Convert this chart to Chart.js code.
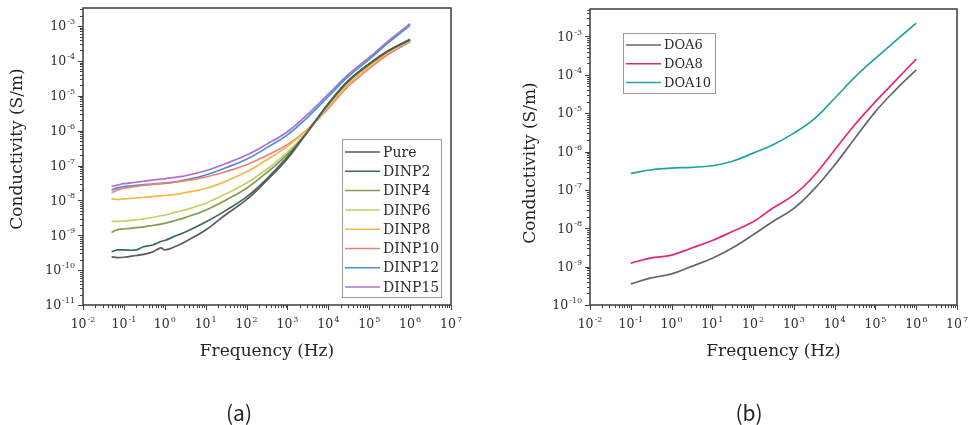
<!DOCTYPE html>
<html>
<head>
<meta charset="utf-8">
<script src="https://cdn.jsdelivr.net/npm/chart.js@4.4.1/dist/chart.umd.min.js"></script>
<style>
  html, body { margin: 0; padding: 0; background: #fff; }
  #wrap { position: relative; width: 968px; height: 425px; }
  canvas { position: absolute; top: 0; }
  #chartA { left: 0; }
  #chartB { left: 484px; }
</style>
</head>
<body>
<div id="wrap">
  <canvas id="chartA" width="484" height="425"></canvas>
  <canvas id="chartB" width="484" height="425"></canvas>
</div>
<script>
// ---- data (frequency in Hz, conductivity in S/m) ----
var freqA = [0.05, 0.07, 0.1, 0.2, 0.3, 0.5, 0.8, 1, 2, 3, 10, 30, 100, 300, 1e3, 3e3, 1e4, 3e4, 1e5, 3e5, 1e6];

var sigmaPure   = [2.40e-10, 2.29e-10, 2.34e-10, 2.63e-10, 2.82e-10, 3.31e-10, 4.37e-10, 3.80e-10, 5.01e-10, 6.31e-10, 1.41e-9, 3.80e-9, 1.05e-8, 3.55e-8, 1.58e-7, 8.91e-7, 6.03e-6, 2.63e-5, 8.32e-5, 2.00e-4, 4.17e-4];
var sigmaDINP2  = [3.39e-10, 3.80e-10, 3.80e-10, 3.80e-10, 4.68e-10, 5.25e-10, 6.61e-10, 7.08e-10, 1.00e-9, 1.20e-9, 2.40e-9, 5.01e-9, 1.26e-8, 3.98e-8, 1.78e-7, 8.71e-7, 5.75e-6, 2.51e-5, 7.94e-5, 1.95e-4, 4.07e-4];
var sigmaDINP4  = [1.20e-9, 1.45e-9, 1.51e-9, 1.66e-9, 1.74e-9, 1.91e-9, 2.09e-9, 2.19e-9, 2.75e-9, 3.16e-9, 5.25e-9, 1.00e-8, 2.24e-8, 6.03e-8, 2.09e-7, 8.91e-7, 5.75e-6, 2.63e-5, 8.32e-5, 2.00e-4, 3.98e-4];
var sigmaDINP6  = [2.51e-9, 2.51e-9, 2.57e-9, 2.75e-9, 2.95e-9, 3.24e-9, 3.63e-9, 3.80e-9, 4.68e-9, 5.25e-9, 8.32e-9, 1.51e-8, 3.16e-8, 7.59e-8, 2.40e-7, 9.12e-7, 5.37e-6, 2.40e-5, 7.76e-5, 1.91e-4, 3.89e-4];
var sigmaDINP8  = [1.10e-8, 1.07e-8, 1.10e-8, 1.17e-8, 1.23e-8, 1.29e-8, 1.35e-8, 1.38e-8, 1.51e-8, 1.66e-8, 2.19e-8, 3.47e-8, 6.61e-8, 1.41e-7, 3.55e-7, 1.05e-6, 4.79e-6, 2.09e-5, 6.92e-5, 1.78e-4, 3.80e-4];
var sigmaDINP10 = [1.66e-8, 2.00e-8, 2.24e-8, 2.51e-8, 2.69e-8, 2.88e-8, 3.02e-8, 3.16e-8, 3.39e-8, 3.63e-8, 4.68e-8, 6.61e-8, 1.05e-7, 1.91e-7, 3.98e-7, 1.05e-6, 4.37e-6, 1.82e-5, 6.03e-5, 1.58e-4, 3.55e-4];
var sigmaDINP12 = [2.00e-8, 2.29e-8, 2.51e-8, 2.69e-8, 2.82e-8, 2.95e-8, 3.09e-8, 3.09e-8, 3.47e-8, 3.80e-8, 5.37e-8, 8.51e-8, 1.51e-7, 3.16e-7, 7.59e-7, 2.34e-6, 9.55e-6, 3.47e-5, 1.12e-4, 3.39e-4, 1.05e-3];
var sigmaDINP15 = [2.51e-8, 2.75e-8, 3.02e-8, 3.31e-8, 3.55e-8, 3.80e-8, 4.07e-8, 4.17e-8, 4.68e-8, 5.01e-8, 7.08e-8, 1.12e-7, 2.00e-7, 3.98e-7, 9.33e-7, 2.82e-6, 1.12e-5, 3.98e-5, 1.26e-4, 3.80e-4, 1.17e-3];

var freqB = [0.1, 0.3, 1, 3, 10, 30, 100, 300, 1e3, 3e3, 1e4, 3e4, 1e5, 3e5, 1e6];

var sigmaDOA6  = [3.55e-10, 5.01e-10, 6.46e-10, 1.00e-9, 1.66e-9, 3.02e-9, 6.76e-9, 1.48e-8, 3.31e-8, 1.00e-7, 4.47e-7, 2.09e-6, 1.10e-5, 3.89e-5, 1.35e-4];
var sigmaDOA8  = [1.23e-9, 1.66e-9, 2.00e-9, 3.02e-9, 4.79e-9, 8.13e-9, 1.48e-8, 3.31e-8, 7.41e-8, 2.24e-7, 1.10e-6, 4.79e-6, 2.00e-5, 6.76e-5, 2.57e-4];
var sigmaDOA10 = [2.69e-7, 3.31e-7, 3.72e-7, 3.89e-7, 4.27e-7, 5.50e-7, 9.12e-7, 1.48e-6, 3.02e-6, 6.76e-6, 2.45e-5, 8.32e-5, 2.69e-4, 7.41e-4, 2.24e-3];

var labelsA = ['Pure', 'DINP2', 'DINP4', 'DINP6', 'DINP8', 'DINP10', 'DINP12', 'DINP15'];
var labelsB = ['DOA6', 'DOA8', 'DOA10'];

// tick labels are powers of ten, listed by exponent
var xDecades  = [-2, -1, 0, 1, 2, 3, 4, 5, 6, 7];
var yDecadesA = [-11, -10, -9, -8, -7, -6, -5, -4, -3];
var yDecadesB = [-10, -9, -8, -7, -6, -5, -4, -3];

var colorsA = ['#5a5a5a', '#376e5a', '#7f9e52', '#c9cf68', '#f3b848', '#ef7f74', '#4a90d0', '#b46ccc'];
var colorsB = ['#666666', '#e0287c', '#23a3a3'];

var SERIF = '"DejaVu Serif", "Liberation Serif", serif';

var toPoints = function (xs, ys) {
  return xs.map((f, i) => ({ x: f, y: ys[i] }));
};

// "10" with a raised exponent
var drawPow = function (ctx, x, y, exp, align) {
  ctx.font = '12.5px ' + SERIF;
  let base = ctx.measureText('10').width;
  ctx.font = '8px ' + SERIF;
  let sup = ctx.measureText(String(exp)).width;
  let total = base + 1 + sup;
  let x0 = align === 'right' ? x - total : x - total / 2;
  ctx.textAlign = 'left';
  ctx.textBaseline = 'middle';
  ctx.font = '12.5px ' + SERIF;
  ctx.fillText('10', x0, y);
  ctx.font = '8px ' + SERIF;
  ctx.fillText(String(exp), x0 + base + 1, y - 5);
};

var axesPlugin = {
  id: 'originAxes',
  afterDraw(chart, args, o) {
    const ctx = chart.ctx;
    const a = chart.chartArea;
    const xs = chart.scales.x;
    const ys = chart.scales.y;
    ctx.save();

    // tick marks, outward on bottom and left
    ctx.strokeStyle = '#404040';
    ctx.lineWidth = 1;
    ctx.beginPath();
    o.xDecades.forEach(e => {
      for (let k = 1; k <= 9; k++) {
        let v = k * Math.pow(10, e);
        if (v > xs.max * 1.0001) break;
        let px = Math.round(xs.getPixelForValue(v)) + 0.5;
        let len = k === 1 ? 5 : 3;
        ctx.moveTo(px, a.bottom);
        ctx.lineTo(px, a.bottom + len);
      }
    });
    o.yDecades.forEach(e => {
      for (let k = 1; k <= 9; k++) {
        let v = k * Math.pow(10, e);
        if (v > ys.max * 1.0001) break;
        let py = Math.round(ys.getPixelForValue(v)) + 0.5;
        let len = k === 1 ? 5 : 3;
        ctx.moveTo(a.left, py);
        ctx.lineTo(a.left - len, py);
      }
    });
    ctx.stroke();

    // frame
    ctx.strokeStyle = '#3c3c3c';
    ctx.lineWidth = 1.5;
    ctx.strokeRect(a.left, a.top, a.right - a.left, a.bottom - a.top);

    // tick labels
    ctx.fillStyle = '#2e2e2e';
    o.xDecades.forEach(e => {
      drawPow(ctx, xs.getPixelForValue(Math.pow(10, e)), a.bottom + 20, e, 'center');
    });
    o.yDecades.forEach(e => {
      drawPow(ctx, a.left - 8, ys.getPixelForValue(Math.pow(10, e)) + 1, e, 'right');
    });

    // axis titles
    ctx.fillStyle = '#252525';
    ctx.font = '17px ' + SERIF;
    ctx.textAlign = 'center';
    ctx.textBaseline = 'middle';
    ctx.fillText('Frequency (Hz)', (a.left + a.right) / 2, 352);
    ctx.save();
    ctx.translate(o.yTitleX, o.yTitleY);
    ctx.rotate(-Math.PI / 2);
    ctx.fillText('Conductivity (S/m)', 0, 0);
    ctx.restore();

    // panel label
    ctx.font = '21px "Noto Sans CJK KR", "DejaVu Sans", sans-serif';
    ctx.fillStyle = '#222';
    ctx.fillText(o.panel, o.panelX, 413);

    // legend box
    const L = o.legend;
    ctx.fillStyle = '#fff';
    ctx.fillRect(L.x, L.y, L.w, L.h);
    ctx.strokeStyle = '#9a9a9a';
    ctx.lineWidth = 1;
    ctx.strokeRect(L.x + 0.5, L.y + 0.5, L.w, L.h);
    ctx.font = L.font + 'px ' + SERIF;
    ctx.textAlign = 'left';
    chart.data.datasets.forEach((ds, i) => {
      let yy = L.row0 + i * L.rowH;
      ctx.strokeStyle = ds.borderColor;
      ctx.lineWidth = 1.5;
      ctx.beginPath();
      ctx.moveTo(L.x0, yy);
      ctx.lineTo(L.x1, yy);
      ctx.stroke();
      ctx.fillStyle = '#2a2a2a';
      ctx.fillText(ds.label, L.tx, yy + 1);
    });

    ctx.restore();
  }
};

var makeConfig = function (freqs, series, labels, colors, yMin, yMax, pad, extra) {
  return {
    type: 'line',
    data: {
      datasets: series.map((s, i) => ({
        label: labels[i],
        data: toPoints(freqs, s),
        borderColor: colors[i],
        backgroundColor: colors[i],
        borderWidth: 1.7,
        pointRadius: 0,
        tension: 0.4,
        fill: false
      }))
    },
    options: {
      responsive: false,
      animation: false,
      devicePixelRatio: 1,
      layout: { padding: pad },
      scales: {
        x: { type: 'logarithmic', min: 0.01, max: 1e7, display: false },
        y: { type: 'logarithmic', min: yMin, max: yMax, display: false }
      },
      plugins: {
        legend: { display: false },
        tooltip: { enabled: false },
        originAxes: extra
      }
    },
    plugins: [axesPlugin]
  };
};

var chartA = new Chart(document.getElementById('chartA').getContext('2d'), makeConfig(
  freqA,
  [sigmaPure, sigmaDINP2, sigmaDINP4, sigmaDINP6, sigmaDINP8, sigmaDINP10, sigmaDINP12, sigmaDINP15],
  labelsA, colorsA, 1e-11, 3.3e-3,
  { left: 83, top: 8, right: 33, bottom: 120 },
  {
    xDecades: xDecades, yDecades: yDecadesA,
    yTitleX: 18, yTitleY: 149, panel: '(a)', panelX: 239,
    legend: { x: 342, y: 139, w: 99, h: 158, row0: 152, rowH: 19.3, x0: 345, x1: 380, tx: 383, font: 14 }
  }
));

var chartB = new Chart(document.getElementById('chartB').getContext('2d'), makeConfig(
  freqB,
  [sigmaDOA6, sigmaDOA8, sigmaDOA10],
  labelsB, colorsB, 1e-10, 5.2e-3,
  { left: 106, top: 9, right: 11, bottom: 120 },
  {
    xDecades: xDecades, yDecades: yDecadesB,
    yTitleX: 47, yTitleY: 163, panel: '(b)', panelX: 265,
    legend: { x: 139, y: 33, w: 92, h: 60, row0: 45, rowH: 18.7, x0: 142, x1: 177, tx: 180, font: 13 }
  }
));
</script>
</body>
</html>
